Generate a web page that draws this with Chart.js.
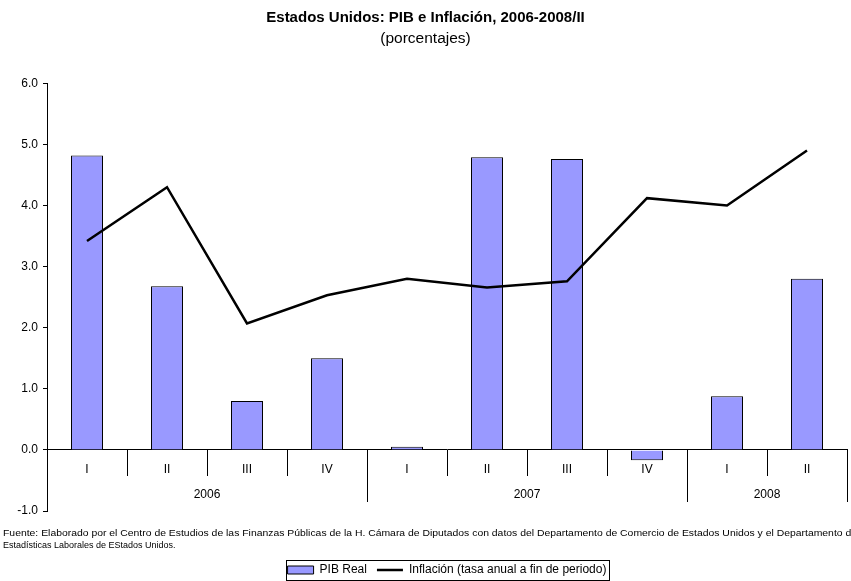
<!DOCTYPE html>
<html>
<head>
<meta charset="utf-8">
<script src="https://cdn.jsdelivr.net/npm/chart.js@4.4.0/dist/chart.umd.min.js"></script>
<style>
  html, body { margin: 0; padding: 0; background: #fff; }
  #wrap { width: 851px; height: 581px; }
</style>
</head>
<body>
<div id="wrap"><canvas id="grafica" width="851" height="581"></canvas></div>
<script>
// datos
var trimestres = ['I', 'II', 'III', 'IV', 'I', 'II', 'III', 'IV', 'I', 'II'];
var anios = ['2006', '2007', '2008'];
var trimestresPorAnio = [4, 4, 2];
var pibReal = [4.82, 2.68, 0.80, 1.50, 0.05, 4.79, 4.76, -0.17, 0.88, 2.80];
var inflacion = [3.42, 4.30, 2.07, 2.53, 2.80, 2.66, 2.76, 4.12, 4.00, 4.90];
var marcasY = [-1, 0, 1, 2, 3, 4, 5, 6];
var notaFuente = [
    'Fuente: Elaborado por el Centro de Estudios de las Finanzas Públicas de la H. Cámara de Diputados con datos del Departamento de Comercio de Estados Unidos y el Departamento de',
    'Estadísticas Laborales de EStados Unidos.'
];

var fuente = 'Liberation Sans, Arial, sans-serif';

// separadores de trimestres / años, etiquetas de año, nota y recuadro de leyenda
var ejeAnios = {
    id: 'ejeAnios',
    afterDraw: function(chart) {
        var ctx = chart.ctx;
        var xs = chart.scales.x;
        var ys = chart.scales.y;
        var y0 = Math.round(ys.getPixelForValue(0));
        var medio = (xs.getPixelForValue(1) - xs.getPixelForValue(0)) / 2;
        ctx.save();
        ctx.strokeStyle = '#000';
        ctx.lineWidth = 1;
        ctx.fillStyle = '#000';
        ctx.font = '12px ' + fuente;
        ctx.textAlign = 'center';
        ctx.textBaseline = 'middle';
        var idx = 0;
        for (var a = 0; a < anios.length; a++) {
            var ini = idx;
            var fin = idx + trimestresPorAnio[a] - 1;
            for (var i = ini; i <= fin; i++) {
                var xr = Math.round(xs.getPixelForValue(i) + medio) + 0.5;
                var largo = (i === fin) ? 52 : 26;
                ctx.beginPath();
                ctx.moveTo(xr, y0);
                ctx.lineTo(xr, y0 + largo);
                ctx.stroke();
            }
            var xc = (xs.getPixelForValue(ini) + xs.getPixelForValue(fin)) / 2;
            ctx.fillText(anios[a], xc, y0 + 45);
            idx = fin + 1;
        }

        // nota de fuente (la primera linea va mas espaciada en el original)
        ctx.textAlign = 'left';
        ctx.font = '9px ' + fuente;
        var yb = chart.chartArea.bottom;
        var ancho1 = ctx.measureText(notaFuente[0]).width;
        ctx.save();
        ctx.translate(3, yb + 23);
        ctx.scale(854 / ancho1, 1);
        ctx.fillText(notaFuente[0], 0, 0);
        ctx.restore();
        ctx.fillText(notaFuente[1], 3, yb + 35);

        // recuadro de la leyenda
        var cajas = chart.legend.legendHitBoxes;
        if (cajas && cajas.length) {
            var izq = Infinity, der = -Infinity, arriba = cajas[0].top, alto = cajas[0].height;
            cajas.forEach(function(c) {
                izq = Math.min(izq, c.left);
                der = Math.max(der, c.left + c.width);
            });
            var cy = arriba + alto / 2;
            ctx.strokeRect(Math.round(izq) - 1.5, Math.round(cy - 10) + 0.5, Math.round(der - izq) + 4, 20);
        }
        ctx.restore();
    }
};

var ctx = document.getElementById('grafica').getContext('2d');
var grafica = new Chart(ctx, {
    type: 'bar',
    data: {
        labels: trimestres,
        datasets: [{
            type: 'bar',
            label: 'PIB Real',
            data: pibReal,
            backgroundColor: '#9999FF',
            borderColor: '#000',
            borderWidth: 1,
            barPercentage: 0.4,
            categoryPercentage: 1.0,
            pointStyle: 'rect',
            order: 1
        }, {
            type: 'line',
            label: 'Inflación (tasa anual a fin de periodo)',
            data: inflacion,
            borderColor: '#000',
            backgroundColor: '#000',
            borderWidth: 2.5,
            pointRadius: 0,
            tension: 0,
            pointStyle: 'line',
            order: 0
        }]
    },
    options: {
        responsive: false,
        animation: false,
        layout: { padding: { left: 4, right: 4, top: 0, bottom: -5 } },
        plugins: {
            title: {
                display: true,
                text: 'Estados Unidos: PIB e Inflación, 2006-2008/II',
                color: '#000',
                font: { family: fuente, size: 15, weight: 'bold' },
                padding: { top: 9, bottom: 0 }
            },
            subtitle: {
                display: true,
                text: '(porcentajes)',
                color: '#000',
                font: { family: fuente, size: 15.5 },
                padding: { top: 2.7, bottom: 35 }
            },
            legend: {
                position: 'bottom',
                fullSize: false,
                labels: {
                    usePointStyle: true,
                    pointStyleWidth: 26,
                    boxHeight: 8,
                    padding: 10,
                    color: '#000',
                    font: { family: fuente, size: 12 },
                    sort: function(a, b) { return a.datasetIndex - b.datasetIndex; }
                }
            },
            tooltip: { enabled: false }
        },
        scales: {
            x: {
                type: 'category',
                position: { y: 0 },
                offset: true,
                grid: { display: false },
                border: { display: true, color: '#000', width: 1 },
                ticks: { color: '#000', font: { family: fuente, size: 12 }, padding: 5, maxRotation: 0 }
            },
            x2: {
                type: 'category',
                labels: trimestres,
                position: 'bottom',
                grid: { display: false },
                border: { display: false },
                ticks: { display: false },
                afterFit: function(s) { s.height = 43; }
            },
            y: {
                min: -1,
                max: 6,
                position: 'left',
                afterBuildTicks: function(s) {
                    s.ticks = marcasY.map(function(v) { return { value: v }; });
                },
                ticks: {
                    color: '#000',
                    font: { family: fuente, size: 12 },
                    padding: 5,
                    callback: function(v) { return Number(v).toFixed(1); }
                },
                grid: { drawOnChartArea: false, tickLength: 4, color: '#000' },
                border: { color: '#000', width: 1 },
                afterFit: function(s) { s.width = 43; }
            }
        }
    },
    plugins: [ejeAnios]
});
</script>
</body>
</html>
